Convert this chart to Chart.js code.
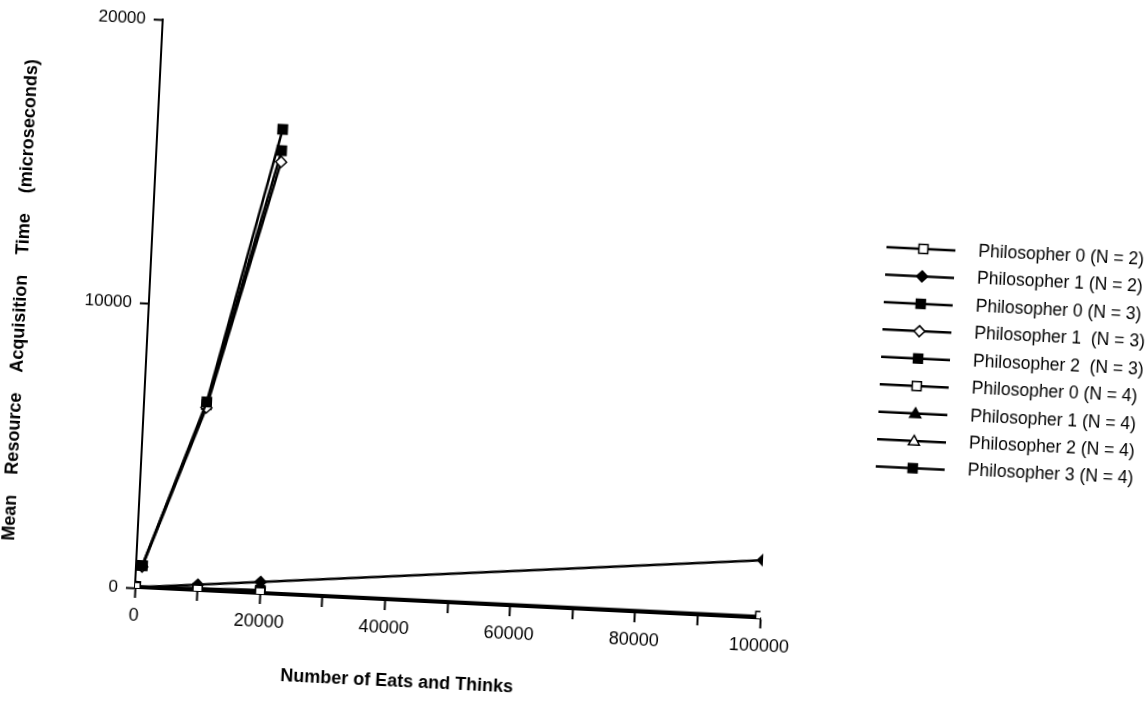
<!DOCTYPE html>
<html>
<head>
<meta charset="utf-8">
<script src="https://cdn.jsdelivr.net/npm/chart.js"></script>
<style>
  html, body { margin: 0; padding: 0; background: #fff; overflow: hidden; }
  #wrap { width: 1148px; height: 703px; }
  /* the scanned figure sits slightly tilted on the page */
  #chart { display: block; transform: rotate(2.8deg); transform-origin: 574px 351.5px; }
</style>
</head>
<body>
<div id="wrap"><canvas id="chart" width="1148" height="703"></canvas></div>
<script>
// x values (number of eats and thinks)
const xN2 = [100, 10000, 20000, 100000];
const xN3 = [1000, 10000, 20000];
const xN4 = [100, 10000, 20000];

// mean resource acquisition time (microseconds)
const p0n2 = [30, 40, 60, 80];
const p1n2 = [20, 220, 420, 2050];
const p0n3 = [790, 6650, 16350];
const p1n3 = [760, 6450, 15200];
const p2n3 = [800, 6550, 15600];
const p0n4 = [40, 60, 90];
const p1n4 = [50, 80, 120];
const p2n4 = [30, 70, 100];
const p3n4 = [60, 90, 130];

const seriesLabels = [
  "Philosopher 0 (N = 2)",
  "Philosopher 1 (N = 2)",
  "Philosopher 0 (N = 3)",
  "Philosopher 1  (N = 3)",
  "Philosopher 2  (N = 3)",
  "Philosopher 0 (N = 4)",
  "Philosopher 1 (N = 4)",
  "Philosopher 2 (N = 4)",
  "Philosopher 3 (N = 4)",
];

const xTickLabels = [0, 20000, 40000, 60000, 80000, 100000];
const yTickLabels = [0, 10000, 20000];

const xTitle = "Number of Eats and Thinks";
const yTitle = "Mean    Resource    Acquisition    Time    (microseconds)";

const font = '"Liberation Sans", Arial, Helvetica, sans-serif';

function toPoints(xs, ys) {
  return xs.map((x, i) => ({ x: x, y: ys[i] }));
}

// [xs, ys, marker, filled]
const series = [
  [xN2, p0n2, "rect", false],
  [xN2, p1n2, "rectRot", true],
  [xN3, p0n3, "rect", true],
  [xN3, p1n3, "rectRot", false],
  [xN3, p2n3, "rect", true],
  [xN4, p0n4, "rect", false],
  [xN4, p1n4, "triangle", true],
  [xN4, p2n4, "triangle", false],
  [xN4, p3n4, "rect", true],
];

const datasets = series.map((s, i) => ({
  label: seriesLabels[i],
  data: toPoints(s[0], s[1]),
  borderColor: "#000",
  borderWidth: 2.5,
  pointStyle: s[2],
  pointRadius: s[2] === "rect" ? 6.5 : 5.5,
  pointBorderColor: "#000",
  pointBorderWidth: 1.5,
  pointBackgroundColor: s[3] ? "#000" : "#fff",
  fill: false,
  tension: 0,
}));

// small marker drawer for the hand made legend
function drawMarker(ctx, style, filled, x, y) {
  ctx.beginPath();
  if (style === "rect") {
    ctx.rect(x - 4.5, y - 4.5, 9, 9);
  } else if (style === "rectRot") {
    ctx.moveTo(x, y - 5.5);
    ctx.lineTo(x + 5.5, y);
    ctx.lineTo(x, y + 5.5);
    ctx.lineTo(x - 5.5, y);
    ctx.closePath();
  } else {
    ctx.moveTo(x, y - 5.5);
    ctx.lineTo(x + 5.5, y + 4);
    ctx.lineTo(x - 5.5, y + 4);
    ctx.closePath();
  }
  ctx.fillStyle = filled ? "#000" : "#fff";
  ctx.fill();
  ctx.lineWidth = 1.5;
  ctx.strokeStyle = "#000";
  ctx.stroke();
}

const extras = {
  id: "extras",
  afterDraw(chart) {
    const ctx = chart.ctx;
    ctx.save();
    ctx.fillStyle = "#000";
    ctx.textBaseline = "middle";

    // axis titles
    ctx.font = "bold 18px " + font;
    ctx.textAlign = "center";
    ctx.fillText(xTitle, 413, 690);
    ctx.save();
    ctx.translate(19, 327);
    ctx.rotate(-Math.PI / 2);
    ctx.font = "bold 18px " + font;
    ctx.fillText(yTitle, 0, 0);
    ctx.restore();

    // legend
    ctx.font = "17.5px " + font;
    ctx.textAlign = "left";
    series.forEach((s, i) => {
      const y = 232 + i * 27.45;
      ctx.beginPath();
      ctx.moveTo(881, y);
      ctx.lineTo(950, y);
      ctx.lineWidth = 2.5;
      ctx.strokeStyle = "#000";
      ctx.stroke();
      drawMarker(ctx, s[2], s[3], 918, y);
      ctx.fillStyle = "#000";
      ctx.fillText(seriesLabels[i], 973, y);
    });
    ctx.restore();
  },
};

new Chart(document.getElementById("chart"), {
  type: "line",
  data: { datasets: datasets },
  options: {
    responsive: false,
    animation: false,
    devicePixelRatio: 1,
    layout: { padding: { left: 0, top: 40, right: 375, bottom: 0 } },
    plugins: {
      legend: { display: false },
      tooltip: { enabled: false },
    },
    scales: {
      x: {
        type: "linear",
        min: 0,
        max: 100000,
        afterFit: (scale) => { scale.height = 94; },
        afterBuildTicks: (scale) => {
          const t = [];
          for (let v = 0; v <= 100000; v += 10000) t.push({ value: v });
          scale.ticks = t;
        },
        ticks: {
          autoSkip: false,
          maxRotation: 0,
          padding: 7,
          color: "#000",
          font: { family: font, size: 18 },
          callback: (v) => (xTickLabels.includes(v) ? String(v) : ""),
        },
        grid: {
          drawOnChartArea: false,
          drawTicks: true,
          tickLength: 10,
          tickWidth: 2,
          tickColor: "#000",
        },
        border: { display: true, color: "#000", width: 2 },
      },
      y: {
        type: "linear",
        min: 0,
        max: 20000,
        afterFit: (scale) => { scale.width = 147; },
        afterBuildTicks: (scale) => {
          scale.ticks = yTickLabels.map((v) => ({ value: v }));
        },
        ticks: {
          padding: 8,
          color: "#000",
          font: { family: font, size: 17 },
          callback: (v) => String(v),
        },
        grid: {
          drawOnChartArea: false,
          drawTicks: true,
          tickLength: 9,
          tickWidth: 2,
          tickColor: "#000",
        },
        border: { display: true, color: "#000", width: 2 },
      },
    },
  },
  plugins: [extras],
});
</script>
</body>
</html>
